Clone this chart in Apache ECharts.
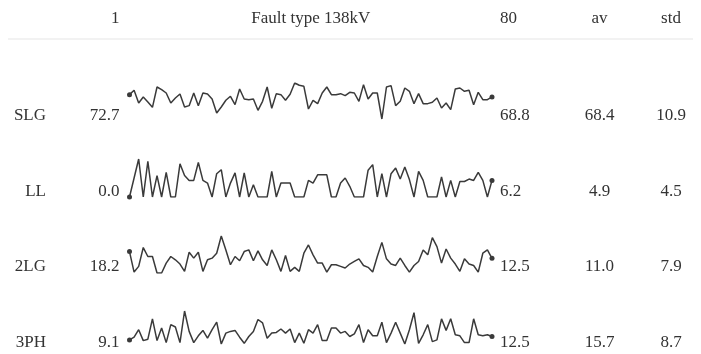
<!DOCTYPE html>
<html>
<head>
<meta charset="utf-8">
<script src="https://cdn.jsdelivr.net/npm/echarts@6/dist/echarts.min.js"></script>
<style>
  html, body { margin: 0; padding: 0; background: #fff; }
  #chart { width: 701px; height: 354px; }
</style>
</head>
<body>
<div id="chart"></div>
<script>
// Fault-type sparkline table: 80 samples per fault type
const headerLabels = ['1', 'Fault type 138kV', '80', 'av', 'std'];
const faultTypes = ['SLG', 'LL', '2LG', '3PH'];

const slgValues = [72.7,80.1,58.5,68.7,60.2,51.2,85.7,81.2,75.5,58.5,67.0,73.8,51.7,54.0,75.5,54.0,75.5,73.8,65.3,41.5,
  51.7,63.1,69.9,55.7,82.3,65.3,64.2,65.3,46.1,61.4,85.7,49.5,74.4,72.7,63.1,73.3,92.5,88.6,86.9,48.3,
  63.1,57.4,75.5,85.7,72.7,72.7,74.4,71.0,76.7,75.5,61.4,89.7,65.3,75.5,75.5,31.3,85.7,88.0,54.0,61.4,
  84.0,78.4,57.4,74.4,57.4,57.4,59.7,67.0,50.0,58.5,47.2,82.3,84.0,78.4,80.1,55.7,76.7,64.2,64.2,68.8];

const llValues = [0,7.1,14.2,0,13.3,0,8.0,0,9.2,0,0,12.4,8.0,6.2,6.2,12.9,6.2,5.2,0,8.7,
  10.2,0,5.2,9.0,0,9.0,0,4.6,0,0,0,9.6,0,5.2,5.2,5.2,0,0,0,6.2,
  5.2,8.3,8.3,8.3,0,0,5.2,7.1,4.0,0,0,0,10.0,12.1,0,8.7,0,8.7,10.8,6.7,
  11.2,6.5,0,9.6,6.2,0,0,0,7.5,0,6.2,0,5.8,5.8,6.7,6.2,9.2,6.2,0,6.2];

const dlgValues = [18.2,0.8,5.6,21.6,14.0,14.0,0,0,8.4,14.0,11.2,7.6,1.4,17.6,12.6,17.6,1.4,11.2,12.6,16.8,
  31.4,19.6,7.0,14.0,10.4,18.2,19.6,10.4,18.8,11.2,6.4,19.6,11.2,1.4,14.8,1.4,4.8,1.4,16.8,23.8,
  15.4,8.4,8.4,0.8,7.0,7.0,5.6,4.2,7.6,9.8,12.0,6.4,4.8,0.8,14.0,26.0,12.0,7.6,6.4,12.6,
  6.4,0.8,6.4,9.8,19.6,15.4,30.0,22.4,8.4,20.4,12.6,7.6,1.4,12.0,7.6,6.4,0.8,16.8,19.6,12.5];

const tphValues = [9.1,11.8,19.3,8.4,9.8,30.2,8.4,21.0,6.4,24.4,22.0,6.4,38.0,17.6,6.4,13.2,18.6,10.8,19.3,26.8,
  5.0,15.9,17.6,18.6,11.8,5.7,12.5,17.6,29.5,26.1,10.8,15.9,16.6,20.0,15.9,20.0,6.4,15.9,5.7,19.3,
  15.9,24.4,8.4,8.4,21.0,21.0,15.9,17.6,12.5,15.2,24.4,6.4,19.3,13.2,13.2,26.8,6.4,15.9,26.8,15.9,
  5.0,19.3,36.3,5.7,14.2,24.4,7.4,9.1,30.2,18.6,30.2,14.2,13.2,6.4,6.4,30.2,14.2,13.2,14.2,12.5];

const averages = [68.4, 4.9, 11.0, 15.7];
const stdDevs = [10.9, 4.5, 7.9, 8.7];

const seriesValues = [slgValues, llValues, dlgValues, tphValues];
const sampleIndex = slgValues.map((_, i) => i + 1);

// layout
const FONT = '17px "Liberation Serif", "Times New Roman", serif';
const TEXT_COLOR = '#333';
const LINE_COLOR = '#3a3a3a';
const sparkLeft = 129.5, sparkRight = 492;
const sparkTops = [83, 159, 236, 311];
const sparkHeights = [36, 38, 37, 33];
const rowY = faultTypes.map((_, i) => 116 + 75.5 * i);
const headerY = 19;
const col = { label: 46, first: 119.5, last: 500, av: 599.5, std: 671 };

function text(str, x, y, align) {
  return {
    type: 'text',
    style: { text: str, x: x, y: y, textAlign: align, textVerticalAlign: 'middle', font: FONT, fill: TEXT_COLOR }
  };
}

const graphics = [
  text(headerLabels[0], col.first, headerY, 'right'),
  text(headerLabels[1], (sparkLeft + sparkRight) / 2, headerY, 'center'),
  text(headerLabels[2], col.last, headerY, 'left'),
  text(headerLabels[3], col.av, headerY, 'center'),
  text(headerLabels[4], col.std, headerY, 'center'),
  {
    type: 'line',
    shape: { x1: 8, y1: 39, x2: 693, y2: 39 },
    style: { stroke: '#eeeeee', lineWidth: 1.5 }
  }
];

faultTypes.forEach((name, i) => {
  const vals = seriesValues[i];
  graphics.push(text(name, col.label, rowY[i], 'right'));
  graphics.push(text(vals[0].toFixed(1), col.first, rowY[i], 'right'));
  graphics.push(text(vals[vals.length - 1].toFixed(1), col.last, rowY[i], 'left'));
  graphics.push(text(averages[i].toFixed(1), col.av, rowY[i], 'center'));
  graphics.push(text(stdDevs[i].toFixed(1), col.std, rowY[i], 'center'));
});

const option = {
  animation: false,
  backgroundColor: '#fff',
  grid: faultTypes.map((_, i) => ({
    left: sparkLeft, width: sparkRight - sparkLeft,
    top: sparkTops[i], height: sparkHeights[i],
    containLabel: false
  })),
  xAxis: faultTypes.map((_, i) => ({
    type: 'category', gridIndex: i, data: sampleIndex, boundaryGap: false, show: false
  })),
  yAxis: faultTypes.map((_, i) => ({
    type: 'value', gridIndex: i, min: 'dataMin', max: 'dataMax', scale: true, show: false
  })),
  series: faultTypes.map((name, i) => ({
    name: name,
    type: 'line',
    xAxisIndex: i,
    yAxisIndex: i,
    data: seriesValues[i],
    symbol: 'circle',
    showAllSymbol: true,
    symbolSize: (v, p) => (p.dataIndex === 0 || p.dataIndex === seriesValues[i].length - 1) ? 5 : 0,
    itemStyle: { color: LINE_COLOR },
    lineStyle: { color: LINE_COLOR, width: 1.5 },
    silent: true
  })),
  graphic: graphics
};

const chart = echarts.init(document.getElementById('chart'), null, { renderer: 'canvas' });
chart.setOption(option);
</script>
</body>
</html>
